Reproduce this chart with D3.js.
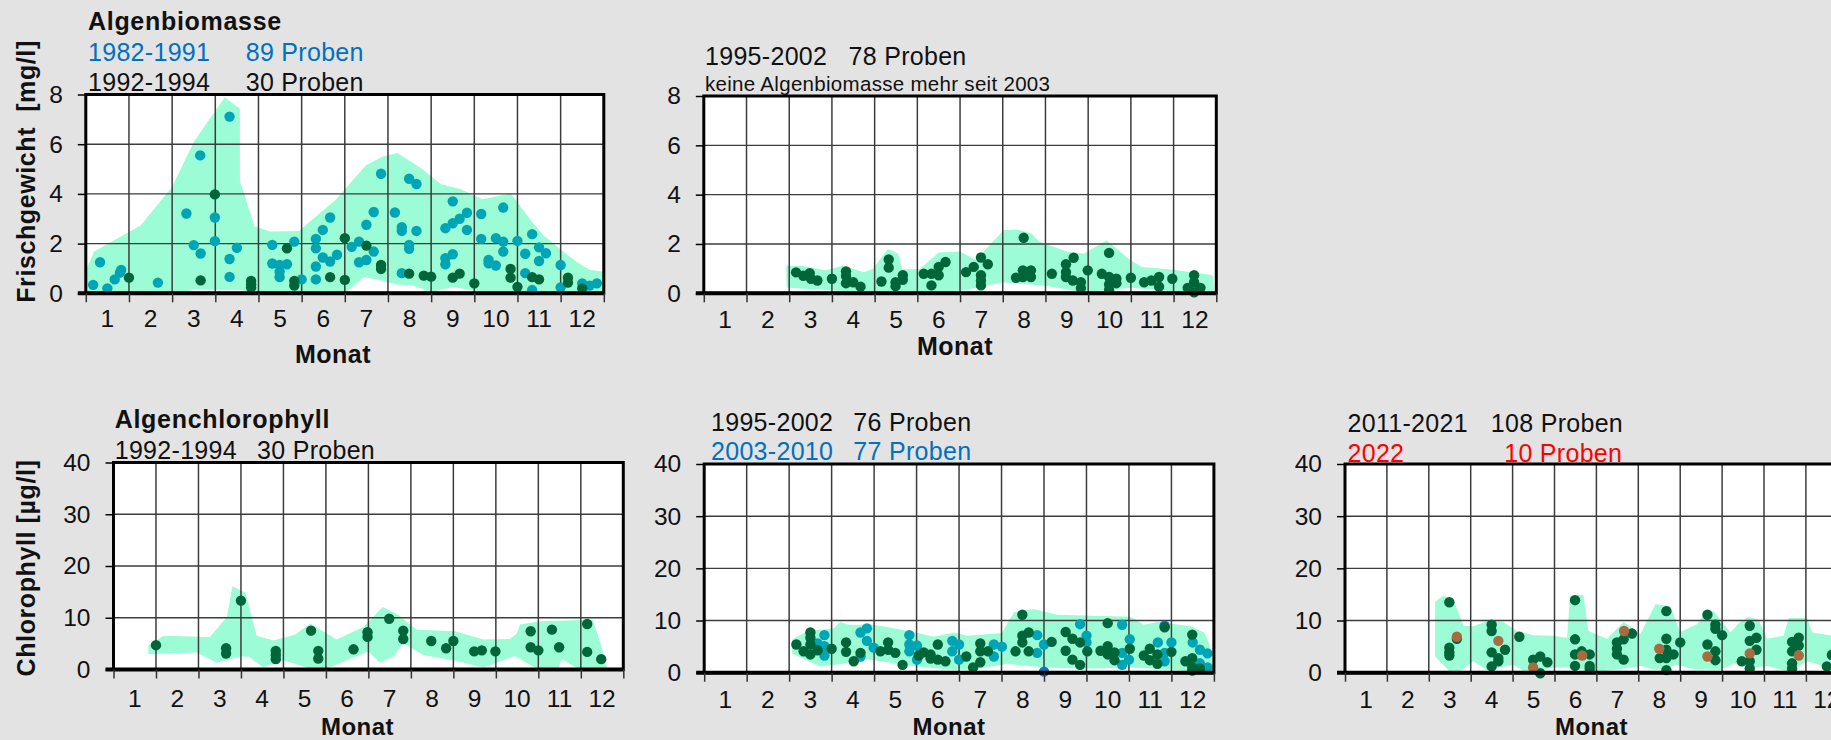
<!DOCTYPE html>
<html><head><meta charset="utf-8">
<script src="https://cdn.jsdelivr.net/npm/d3@7"></script>
<style>
html,body{margin:0;padding:0;background:#e3e3e3;}
svg{display:block;}
text{font-family:"Liberation Sans",Arial,sans-serif;}
</style></head><body>
<svg id="chart" width="1831" height="740"></svg>
<script>
// ---------- tick labels ----------
const monthLabels = ["1","2","3","4","5","6","7","8","9","10","11","12"];
const bioTicks = [0,2,4,6,8];
const chlTicks = [0,10,20,30,40];

// ---------- Panel 1: Algenbiomasse 1982-1994 (month position, mg/l) ----------
const bio8291 = [[0.17,0.34],[0.33,1.25],[0.50,0.20],[0.67,0.56],[0.82,0.94],[0.79,0.83],[1.67,0.43],[2.33,3.21],[2.50,1.94],[2.65,5.55],[2.66,1.60],[2.99,3.05],[2.99,2.10],[3.33,7.11],[3.33,1.38],[3.33,0.66],[3.50,1.83],[4.32,1.95],[4.32,1.20],[4.49,1.14],[4.49,0.87],[4.49,0.65],[4.66,1.17],[4.83,2.08],[5.00,0.56],[5.33,2.19],[5.33,1.81],[5.33,1.08],[5.33,0.56],[5.49,2.55],[5.49,1.44],[5.66,3.05],[5.66,1.28],[5.82,1.55],[6.16,1.87],[6.33,2.08],[6.33,1.25],[6.50,2.76],[6.50,1.34],[6.67,3.27],[6.67,1.68],[6.84,4.81],[7.16,3.25],[7.32,2.66],[7.32,2.51],[7.32,0.81],[7.49,4.61],[7.66,4.40],[7.66,2.51],[7.49,1.95],[7.49,1.79],[8.33,2.62],[8.50,3.70],[8.50,2.82],[8.33,1.41],[8.33,1.17],[8.50,1.57],[8.66,3.00],[8.83,3.24],[8.83,2.55],[9.16,3.19],[9.16,2.19],[9.33,1.34],[9.33,1.21],[9.50,2.22],[9.50,1.12],[9.67,3.45],[9.67,2.08],[9.67,1.68],[10.00,2.11],[10.18,1.59],[10.18,0.81],[10.34,2.38],[10.34,0.13],[10.50,1.85],[10.50,1.30],[10.66,1.61],[11.00,1.14],[11.00,0.24],[11.50,0.40],[11.67,0.31],[11.84,0.40]];
const bio9294 = [[1.00,0.63],[2.66,0.52],[2.99,3.98],[3.83,0.50],[3.83,0.36],[3.83,0.23],[4.66,1.81],[4.83,0.50],[4.83,0.31],[5.66,0.65],[6.00,2.22],[6.00,0.54],[6.50,1.92],[6.84,1.14],[6.84,0.98],[7.49,0.79],[7.83,0.71],[8.00,0.67],[8.50,0.63],[8.66,0.79],[9.00,0.40],[9.84,0.98],[9.84,0.63],[10.00,0.26],[10.34,0.65],[10.50,0.56],[11.17,0.63],[11.17,0.43],[11.50,0.20]];
const bioBand1Upper = [[0,0.9],[0.19,1.68],[1.27,2.73],[2.0,4.29],[2.51,6.12],[3.22,7.89],[3.57,7.43],[3.57,4.53],[3.91,2.69],[4.28,2.49],[4.94,2.51],[5.33,3.09],[5.79,3.76],[6.49,5.15],[6.88,5.51],[7.22,5.65],[7.80,4.99],[8.23,4.39],[8.69,4.19],[9.19,3.78],[9.85,4.01],[10.24,3.09],[10.59,2.35],[11.01,1.75],[11.36,1.28],[11.67,0.94],[12.0,0.87]];
const bioBand1Lower = [[12.0,0.02],[11.0,-0.15],[10.3,-0.05],[9.9,-0.1],[9.0,0.1],[8.5,0.25],[8.0,0.05],[7.6,0.3],[7.2,0.35],[6.8,0.54],[6.45,0.66],[6.0,0.0],[5.5,0.1],[5.0,0.02],[4.5,0.05],[4.0,-0.05],[3.6,0.13],[3.0,0.13],[2.5,0.15],[2.0,-0.05],[1.0,-0.1],[0,-0.2]];

// ---------- Panel 2: Algenbiomasse 1995-2002 ----------
const bio9502 = [[2.16,0.85],[2.33,0.71],[2.48,0.82],[2.51,0.59],[2.66,0.52],[3.00,0.59],[3.33,0.89],[3.33,0.70],[3.33,0.41],[3.50,0.45],[3.67,0.27],[4.16,0.48],[4.33,1.37],[4.33,1.04],[4.49,0.29],[4.49,0.45],[4.66,0.73],[4.66,0.55],[5.15,0.79],[5.33,0.79],[5.33,0.32],[5.50,1.07],[5.50,0.73],[5.66,1.27],[6.14,0.86],[6.32,1.07],[6.49,1.45],[6.49,0.73],[6.49,0.52],[6.49,0.32],[6.65,1.18],[7.49,2.25],[7.31,0.63],[7.47,0.93],[7.47,0.66],[7.66,0.93],[7.66,0.66],[8.15,0.79],[8.48,1.18],[8.48,0.86],[8.48,0.66],[8.66,1.44],[8.64,0.52],[8.83,0.45],[8.83,0.21],[8.99,0.93],[9.32,0.79],[9.49,1.64],[9.49,0.66],[9.49,0.36],[9.49,0.14],[9.66,0.59],[9.66,0.41],[10.00,0.63],[10.31,0.45],[10.48,0.52],[10.66,0.66],[10.66,0.27],[10.97,0.59],[11.48,0.73],[11.48,0.45],[11.33,0.22],[11.63,0.22],[11.48,0.04]];
const bioBand2Upper = [[1.93,1.12],[2.3,1.12],[2.85,0.93],[3.25,1.12],[3.75,0.85],[3.96,1.0],[4.31,1.8],[4.55,1.6],[4.65,0.98],[5.05,0.98],[5.5,1.65],[6.0,1.69],[6.37,1.35],[7.02,2.56],[7.34,2.59],[7.67,2.42],[7.85,2.1],[8.5,1.69],[8.9,1.6],[9.43,2.15],[9.98,1.35],[10.26,1.07],[11.0,0.95],[11.92,0.73]];
const bioBand2Lower = [[11.95,0.1],[11.2,0.04],[10.04,0.22],[8.87,0.04],[7.97,0.32],[7.0,0.45],[6.07,0.11],[4.98,0.04],[3.96,0.04],[3.03,0.11],[1.94,0.22]];

// ---------- Panel 3: Algenchlorophyll 1992-1994 (µg/l) ----------
const chl9294 = [[1.0,4.7],[2.65,4.1],[2.65,3.1],[3.0,13.3],[3.82,3.6],[3.82,2.8],[3.82,2.0],[4.65,7.5],[4.82,3.6],[4.82,2.1],[5.65,3.9],[5.98,7.2],[5.98,6.3],[6.49,9.8],[6.82,7.5],[6.82,5.9],[7.48,5.5],[7.83,4.1],[8.0,5.5],[8.49,3.5],[8.67,3.7],[8.99,3.5],[9.82,7.4],[9.82,4.3],[10.0,3.7],[10.32,7.7],[10.49,4.3],[11.15,8.8],[11.15,3.4],[11.48,2.0]];
const chlBand3Upper = [[0.82,4.6],[1.18,6.5],[2.27,6.3],[2.67,10.2],[2.8,16.1],[3.1,14.9],[3.37,6.5],[3.76,5.6],[4.27,6.7],[4.63,8.9],[5.25,5.8],[5.88,8.2],[6.34,12.1],[6.68,10.7],[7.14,7.7],[8.04,7.4],[8.71,5.8],[9.33,5.9],[9.49,6.9],[9.57,8.7],[10.04,9.3],[11.28,9.6],[11.49,4.4],[11.64,-0.5]];
const chlBand3Lower = [[10.98,-0.2],[10.55,2.1],[10.45,-0.2],[9.96,0.2],[9.45,2.6],[8.71,0.4],[8.0,1.8],[7.29,2.8],[6.82,5.1],[6.59,2.5],[6.27,1.3],[6.0,3.5],[5.02,0.2],[4.63,0.2],[4.0,1.8],[3.53,0.4],[3.18,2.5],[2.98,2.5],[2.43,1.3],[1.96,3.3],[0.82,3.0]];

// ---------- Panel 4: 1995-2002 and 2003-2010 ----------
const chl9502 = [[2.17,5.4],[2.34,4.1],[2.50,7.7],[2.50,6.7],[2.50,5.4],[2.50,3.5],[2.67,4.3],[3.0,4.6],[3.34,5.8],[3.34,4.0],[3.52,2.2],[3.68,3.8],[4.15,4.1],[4.33,5.8],[4.33,4.4],[4.50,3.8],[4.67,1.5],[5.05,3.3],[5.17,3.9],[5.33,3.5],[5.33,2.7],[5.50,5.4],[5.50,2.5],[5.68,2.2],[6.17,3.1],[6.33,1.0],[6.50,5.6],[6.50,4.1],[6.50,2.0],[6.68,4.1],[7.33,4.1],[7.49,11.1],[7.49,7.1],[7.49,5.8],[7.64,7.7],[7.64,4.1],[8.18,5.9],[8.51,7.8],[8.51,4.2],[8.67,6.5],[8.67,2.5],[8.85,5.8],[8.85,1.5],[9.02,4.1],[9.33,4.2],[9.50,9.5],[9.50,5.1],[9.50,3.5],[9.66,3.9],[9.66,2.4],[10.02,4.6],[10.35,3.3],[10.49,4.6],[10.49,2.4],[10.67,3.5],[10.67,1.7],[10.84,8.7],[11.0,4.0],[11.33,2.2],[11.49,7.3],[11.49,2.8],[11.49,1.0],[11.67,0.8],[11.49,0.4]];
const chl0310 = [[2.83,7.2],[2.83,5.1],[2.83,3.3],[2.67,5.6],[3.68,7.7],[3.83,8.5],[3.83,6.1],[3.68,3.1],[3.99,4.8],[4.83,7.2],[4.83,5.4],[4.83,4.1],[5.01,5.2],[5.01,2.5],[5.84,6.1],[5.84,4.1],[6.0,5.4],[6.0,2.5],[6.82,5.4],[6.82,3.1],[7.01,5.0],[7.84,7.2],[7.84,3.8],[8.0,5.4],[8.85,9.3],[9.0,7.1],[9.0,5.8],[9.84,9.2],[10.02,6.4],[9.84,3.8],[9.84,1.5],[10.0,2.5],[10.68,5.8],[10.84,3.8],[10.84,2.2],[11.0,5.8],[11.5,5.8],[11.67,4.4],[11.85,3.7],[11.85,1.0],[11.67,1.8]];
const chl0310Blue = [[8.0,0.2],[10.84,9.0]];
const chlBand4Upper = [[2.07,6.3],[2.42,8.0],[3.05,8.5],[3.2,9.7],[3.4,9.2],[3.99,9.2],[4.46,8.5],[4.93,7.8],[5.4,6.9],[5.88,7.7],[6.19,7.1],[7.01,7.6],[7.29,11.6],[7.76,12.2],[8.31,11.1],[10.04,10.7],[10.35,9.2],[10.67,9.7],[11.45,8.9],[11.77,7.7],[11.88,5.8],[12.0,0.7]];
const chlBand4Lower = [[12.0,0.0],[11.06,0.5],[10.12,1.0],[9.02,0.8],[8.0,1.0],[7.13,1.7],[6.43,0.7],[5.88,0.5],[5.01,1.2],[4.15,2.2],[3.68,2.8],[3.28,1.7],[2.73,1.2],[2.07,3.7]];

// ---------- Panel 5: 2011-2021 and 2022 ----------
const chl1121 = [[2.49,13.5],[2.49,4.8],[2.49,3.9],[2.49,3.3],[2.67,6.5],[3.5,9.2],[3.5,8.0],[3.5,3.9],[3.66,2.8],[3.66,2.2],[3.5,1.2],[3.82,4.4],[4.16,6.9],[4.49,2.5],[4.66,3.1],[4.66,-0.1],[4.83,2.0],[5.49,13.9],[5.49,6.4],[5.49,3.5],[5.49,1.3],[5.65,4.1],[5.84,3.5],[5.84,1.3],[5.84,0.7],[6.49,5.8],[6.49,4.6],[6.49,3.5],[6.65,6.4],[6.65,2.5],[6.85,7.5],[7.67,11.8],[7.67,6.5],[7.67,4.4],[7.67,2.8],[7.84,3.5],[7.51,2.8],[8.0,5.8],[7.67,0.5],[8.65,11.1],[8.84,9.2],[8.84,8.4],[9.0,7.2],[8.65,5.4],[8.84,4.1],[8.84,2.4],[9.66,9.0],[9.82,6.7],[9.66,6.1],[9.82,4.4],[9.47,2.2],[9.66,0.8],[9.66,2.2],[10.67,5.9],[10.83,6.7],[10.83,5.2],[10.67,4.1],[10.67,1.8],[10.67,0.8],[11.5,1.2],[11.62,3.4]];
const chl2022 = [[2.67,6.9],[3.66,6.1],[4.49,1.0],[5.66,3.3],[6.66,8.0],[7.5,4.6],[8.65,3.1],[9.66,3.7],[10.83,3.3]];
const chlBand5Upper = [[2.15,13.6],[2.35,14.8],[2.59,13.9],[2.83,9.0],[3.07,8.9],[3.42,10.0],[3.78,9.7],[4.1,8.0],[4.5,7.2],[4.98,7.1],[5.3,6.7],[5.37,14.8],[5.69,14.9],[5.81,8.0],[6.25,6.5],[6.65,9.7],[7.05,7.4],[7.41,13.1],[7.76,12.8],[8.0,7.8],[8.4,9.3],[8.6,11.6],[8.8,11.8],[9.2,7.7],[9.43,9.7],[9.63,10.7],[9.87,10.2],[10.07,6.5],[10.47,7.1],[10.59,10.5],[11.03,10.5],[11.15,7.7],[11.61,7.1],[12.2,6.0]];
const chlBand5Lower = [[12.2,0.5],[11.61,0.8],[11.03,2.2],[10.59,0.2],[10.07,1.3],[9.75,1.0],[9.28,1.8],[8.96,0.5],[8.32,0.7],[7.92,1.5],[7.44,0.5],[7.05,1.3],[6.41,0.5],[6.01,0.2],[5.45,1.0],[4.98,1.0],[4.34,0.0],[4.02,1.5],[3.38,0.5],[3.07,2.2],[2.59,-0.5],[2.15,3.1]];

// ---------- styles ----------
const BG = "#e3e3e3", BAND = "#9cfcd6", DARK = "#00663a", TEAL = "#00a5b5",
      BLUEDOT = "#1a6fc4", BROWN = "#a86a3e", BLUE = "#0070c0", RED = "#ff0000", GRID = "#3c3c3c";
const R = 5.2;

const svg = d3.select("#chart");
svg.append("rect").attr("width",1831).attr("height",740).attr("fill",BG);

const panels = [
  {id:1, left:85.8, right:603.8, top:94.5, bottom:293.3, ymax:8, ticks:bioTicks,
   band:[bioBand1Upper,bioBand1Lower], series:[[bio8291,TEAL],[bio9294,DARK]],
   monthY:327, monatX:333, monatY:362.5, monatSize:25},
  {id:2, left:703.8, right:1216.3, top:96, bottom:293.3, ymax:8, ticks:bioTicks,
   band:[bioBand2Upper,bioBand2Lower], series:[[bio9502,DARK]],
   monthY:328, monatX:955, monatY:355, monatSize:25},
  {id:3, left:113.5, right:623.3, top:462.5, bottom:669.5, ymax:40, ticks:chlTicks,
   band:[chlBand3Upper,chlBand3Lower], series:[[chl9294,DARK]],
   monthY:707, monatX:357.5, monatY:734.5, monatSize:24},
  {id:4, left:704.2, right:1213.9, top:464, bottom:672.7, ymax:40, ticks:chlTicks,
   band:[chlBand4Upper,chlBand4Lower], series:[[chl0310Blue,BLUEDOT],[chl0310,TEAL],[chl9502,DARK]],
   monthY:707.5, monatX:949, monatY:734.5, monatSize:24},
  {id:5, left:1345, right:1847.8, top:464, bottom:672.7, ymax:40, ticks:chlTicks,
   band:[chlBand5Upper,chlBand5Lower], series:[[chl1121,DARK],[chl2022,BROWN]],
   monthY:707.5, monatX:1591.5, monatY:734.5, monatSize:24}
];

panels.forEach(p => {
  const x = d3.scaleLinear().domain([0,12]).range([p.left,p.right]);
  const y = d3.scaleLinear().domain([0,p.ymax]).range([p.bottom,p.top]);
  const g = svg.append("g");
  const cid = "clip"+p.id;
  g.append("clipPath").attr("id",cid).append("rect")
    .attr("x",p.left).attr("y",p.top).attr("width",p.right-p.left).attr("height",p.bottom-p.top+2);
  g.append("rect").attr("x",p.left).attr("y",p.top).attr("width",p.right-p.left).attr("height",p.bottom-p.top).attr("fill","#fff");

  const poly = d3.line().x(d=>x(d[0])).y(d=>y(d[1])).curve(d3.curveLinearClosed);
  g.append("path").attr("d",poly(p.band[0].concat(p.band[1]))).attr("fill",BAND).attr("clip-path",`url(#${cid})`);

  // grid
  g.selectAll(".vg").data(d3.range(1,12)).enter().append("line")
    .attr("x1",d=>x(d)).attr("x2",d=>x(d)).attr("y1",p.top).attr("y2",p.bottom)
    .attr("stroke",GRID).attr("stroke-width",1.5);
  g.selectAll(".hg").data(p.ticks.filter(t=>t>0 && t<p.ymax)).enter().append("line")
    .attr("x1",p.left).attr("x2",p.right).attr("y1",d=>y(d)).attr("y2",d=>y(d))
    .attr("stroke",GRID).attr("stroke-width",1.4);

  // points
  p.series.forEach(([data,color]) => {
    g.append("g").selectAll("circle").data(data).enter().append("circle")
      .attr("cx",d=>x(d[0])).attr("cy",d=>y(d[1])).attr("r",R).attr("fill",color);
  });

  // frame
  g.append("rect").attr("x",p.left).attr("y",p.top).attr("width",p.right-p.left).attr("height",p.bottom-p.top)
    .attr("fill","none").attr("stroke","#000").attr("stroke-width",3);
  g.append("line").attr("x1",p.left-8).attr("x2",p.right).attr("y1",p.bottom).attr("y2",p.bottom)
    .attr("stroke","#000").attr("stroke-width",4);

  // y axis
  const ya = g.append("g").attr("transform",`translate(${p.left},0)`)
    .call(d3.axisLeft(y).tickValues(p.ticks).tickSize(8).tickPadding(15));
  ya.select(".domain").remove();
  ya.selectAll("line").attr("stroke","#000").attr("stroke-width",1.5);
  ya.selectAll("text").attr("font-size","24.5px").attr("fill","#111")
    .style("font-family","'Liberation Sans',Arial,sans-serif");

  // x ticks
  const xa = g.append("g").attr("transform",`translate(0,${p.bottom})`)
    .call(d3.axisBottom(x).tickValues(d3.range(0,13)).tickSize(9).tickFormat(""));
  xa.select(".domain").remove();
  xa.selectAll("line").attr("stroke","#333").attr("stroke-width",1.5);

  // month labels
  g.selectAll(".ml").data(monthLabels).enter().append("text")
    .attr("x",(d,i)=>x(i+0.5)).attr("y",p.monthY).attr("text-anchor","middle")
    .attr("font-size","24.5px").attr("fill","#111").text(d=>d);

  g.append("text").attr("x",p.monatX).attr("y",p.monatY).attr("text-anchor","middle")
    .attr("font-size",p.monatSize+"px").attr("font-weight","bold").attr("letter-spacing","0.5px").attr("fill","#111").text("Monat");
});

// ---------- titles & legends ----------
function txt(x, y, s, opt={}) {
  return svg.append("text").attr("x",x).attr("y",y)
    .attr("font-size",(opt.size||25)+"px")
    .attr("font-weight",opt.bold?"bold":"normal")
    .attr("letter-spacing",(opt.ls!=null?opt.ls:0.3)+"px")
    .attr("fill",opt.color||"#111").style("white-space","pre").text(s);
}
txt(88,30,"Algenbiomasse",{bold:true,ls:0.7});
txt(88,61,"1982-1991",{color:BLUE}); txt(245.7,61,"89 Proben",{color:BLUE});
txt(88,90.5,"1992-1994"); txt(245.7,90.5,"30 Proben");

txt(705,65,"1995-2002"); txt(848.5,65,"78 Proben");
txt(705,91,"keine Algenbiomasse mehr seit 2003",{size:20.5});

txt(114.7,428.3,"Algenchlorophyll",{bold:true,ls:0.7});
txt(114.7,459.3,"1992-1994"); txt(257,459.3,"30 Proben");

txt(711,430.7,"1995-2002"); txt(853.3,430.7,"76 Proben");
txt(711,460,"2003-2010",{color:BLUE}); txt(853.3,460,"77 Proben",{color:BLUE});

txt(1347.5,431.7,"2011-2021"); txt(1490.8,431.7,"108 Proben");
txt(1347.5,461.7,"2022",{color:RED}); txt(1504.2,461.7,"10 Proben",{color:RED});

// y axis titles
svg.append("text").attr("transform","translate(35,171.5) rotate(-90)").attr("text-anchor","middle")
  .attr("font-size","25px").attr("font-weight","bold").attr("letter-spacing","0.6px").attr("fill","#111")
  .style("white-space","pre").text("Frischgewicht  [mg/l]");
svg.append("text").attr("transform","translate(35,568) rotate(-90)").attr("text-anchor","middle")
  .attr("font-size","25px").attr("font-weight","bold").attr("letter-spacing","0.6px").attr("fill","#111")
  .text("Chlorophyll [µg/l]");
</script>
</body></html>
